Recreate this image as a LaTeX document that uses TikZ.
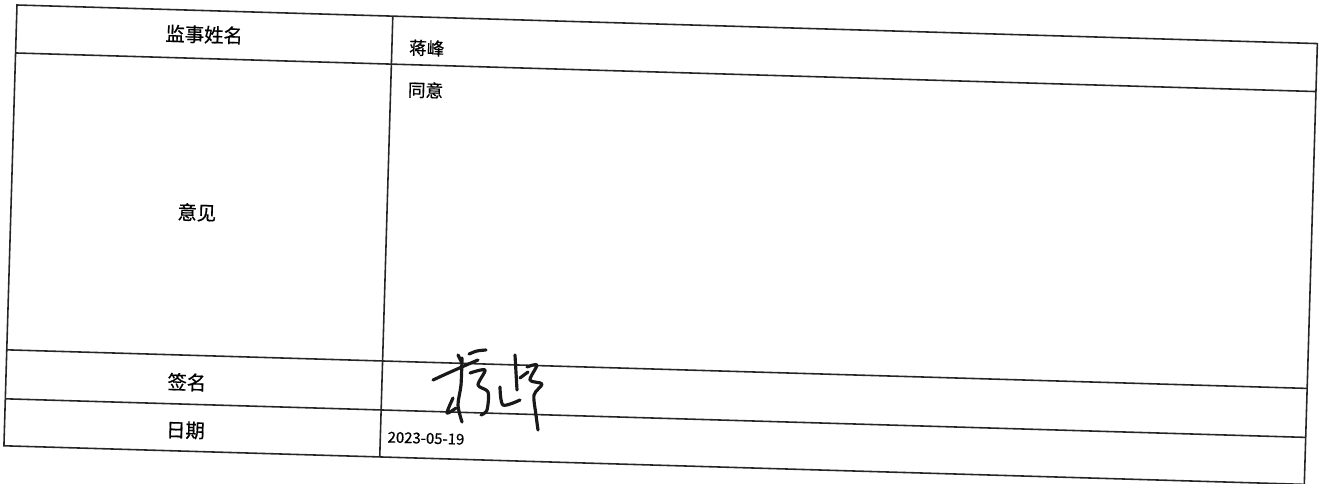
\documentclass[tikz,border=0pt]{standalone}
\usepackage{fontspec}
\setmainfont{Noto Sans CJK SC}
\newfontfamily\cellfont{Noto Sans CJK SC}[FakeBold=0.6]
\usetikzlibrary{positioning}

\begin{document}
\begin{tikzpicture}[x=0.02cm, y=-0.02cm,
    rule/.style={draw=black!85, line width=0.9pt},
    head/.style={font=\cellfont\fontsize{11}{13}\selectfont, inner sep=0pt},
    entry/.style={font=\cellfont\fontsize{10}{12}\selectfont, inner sep=0pt, anchor=west},
    ink/.style={draw=black!90, line width=1.8pt, line cap=round, line join=round}
]
\useasboundingbox (0,0) rectangle (1324,483);

% the scanned table, slightly turned
\begin{scope}[shift={(17,5)}, rotate=-1.7, transform shape]
\draw[rule] (0,0) rectangle (1301,441);
\foreach \y in {48,345,394}
    \draw[rule] (0,\y) -- (1301,\y);
\draw[rule] (376,0) -- (376,441);

\node[head] (name) at (188,24) {监事姓名};
\node[entry] (nameval) at (393,31) {蒋峰};
\node[head] (opinion) at (186,202) {意见};
\node[entry] (opinionval) at (393,73) {同意};
\node[head] (sign) at (181,372) {签名};
\node[head] (date) at (181,420) {日期};
\node[entry, font=\cellfont\fontsize{8.5}{10}\selectfont] (dateval) at (383,421) {2023-05-19};
\end{scope}

% handwritten signature
\draw[ink] plot[smooth] coordinates {(433,380) (446,374) (464,366) (478,360)};
\draw[ink] (458,355) -- (462,363);
\draw[ink] plot[smooth] coordinates {(469,354) (477,351) (486,350)};
\draw[ink] plot[smooth] coordinates {(462,358) (461,385) (458,405) (462,422)};
\draw[ink] plot[smooth] coordinates {(453,398) (447,413) (456,408)};
\draw[ink] plot[smooth] coordinates {(470,373) (485,370) (478,385) (488,392) (487,410) (481,415)};
\draw[ink] plot[smooth] coordinates {(500,387) (503,405) (520,400)};
\draw[ink] plot[smooth] coordinates {(515,355) (517,390)};
\draw[ink] (520,378) -- (528,372);
\draw[ink] plot[smooth] coordinates {(527,367) (537,365) (530,380) (542,384) (534,395) (536,415) (538,430)};
\end{tikzpicture}
\end{document}
